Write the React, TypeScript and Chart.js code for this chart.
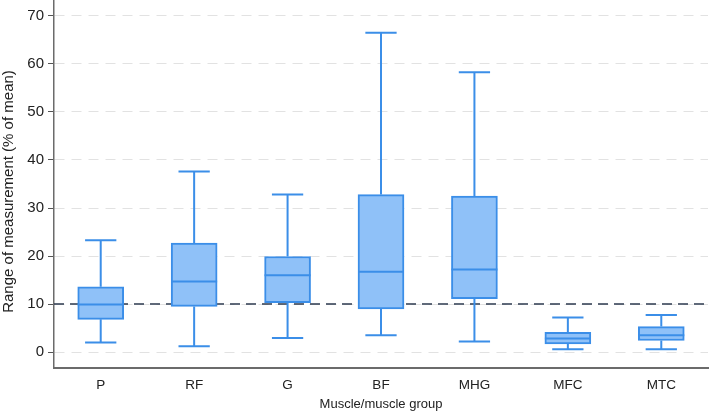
import React, { useEffect, useRef } from "react";
import { Chart, registerables } from "chart.js";

Chart.register(...registerables);

// Muscle groups on the x axis
const CATEGORIES = ["P", "RF", "G", "BF", "MHG", "MFC", "MTC"];

// Five-number summaries (% of mean)
const WHISKER_LOW = [2.0, 1.2, 2.9, 3.5, 2.2, 0.55, 0.6];
const Q1 = [6.8, 9.5, 10.3, 9.0, 11.1, 1.7, 2.4];
const MEDIAN = [9.9, 14.7, 16.0, 16.7, 17.2, 2.8, 3.5];
const Q3 = [13.6, 22.7, 19.9, 32.8, 32.5, 4.1, 5.3];
const WHISKER_HIGH = [23.3, 37.6, 32.8, 66.5, 58.3, 7.2, 7.7];

// Value axis
const Y_TICKS = [0, 10, 20, 30, 40, 50, 60, 70];
const Y_MIN = -3.33;
const Y_MAX = 73.33;
const Y_TITLE = "Range of measurement (% of mean)";
const X_TITLE = "Muscle/muscle group";

// Reference threshold
const REFERENCE_LEVEL = 10;

const FILL = "#8fc1f8";
const STROKE = "#3b8ee8";
const TEXT = "#222";
const FONT_FAMILY = "'Liberation Sans', Arial, sans-serif";

const boxParts = {
  id: "boxParts",
  beforeDatasetsDraw(chart: any) {
    const { ctx, chartArea, scales } = chart;
    const y = scales.y.getPixelForValue(REFERENCE_LEVEL);
    ctx.save();
    ctx.strokeStyle = "#2d3a4f";
    ctx.lineWidth = 1.6;
    ctx.setLineDash([10, 6]);
    ctx.beginPath();
    ctx.moveTo(chartArea.left, y);
    ctx.lineTo(chartArea.right, y);
    ctx.stroke();
    ctx.restore();
  },
  afterDatasetsDraw(chart: any) {
    const { ctx, scales } = chart;
    const meta = chart.getDatasetMeta(0);
    const ys = scales.y;
    ctx.save();
    ctx.strokeStyle = STROKE;
    ctx.lineWidth = 2;
    ctx.setLineDash([]);
    meta.data.forEach((bar: any, i: number) => {
      const x = bar.x;
      const half = bar.width / 2;
      const cap = half * 0.68;
      const yLo = ys.getPixelForValue(WHISKER_LOW[i]);
      const yQ1 = ys.getPixelForValue(Q1[i]);
      const yMed = ys.getPixelForValue(MEDIAN[i]);
      const yQ3 = ys.getPixelForValue(Q3[i]);
      const yHi = ys.getPixelForValue(WHISKER_HIGH[i]);
      ctx.beginPath();
      // upper whisker
      ctx.moveTo(x, yQ3);
      ctx.lineTo(x, yHi);
      ctx.moveTo(x - cap, yHi);
      ctx.lineTo(x + cap, yHi);
      // lower whisker
      ctx.moveTo(x, yQ1);
      ctx.lineTo(x, yLo);
      ctx.moveTo(x - cap, yLo);
      ctx.lineTo(x + cap, yLo);
      // median
      ctx.moveTo(x - half, yMed);
      ctx.lineTo(x + half, yMed);
      ctx.stroke();
    });
    ctx.restore();
  },
  afterDraw(chart: any) {
    // vertical axis title, centred a little below the plot centre
    const { ctx, chartArea } = chart;
    ctx.save();
    ctx.translate(12.5, (chartArea.top + chartArea.bottom) / 2 + 7.5);
    ctx.rotate(-Math.PI / 2);
    ctx.font = `15px ${FONT_FAMILY}`;
    ctx.fillStyle = TEXT;
    ctx.textAlign = "center";
    ctx.textBaseline = "alphabetic";
    ctx.fillText(Y_TITLE, 0, 0);
    ctx.restore();
  },
};

export default function App() {
  const canvasRef = useRef<HTMLCanvasElement | null>(null);

  useEffect(() => {
    if (!canvasRef.current) return;
    const chart = new Chart(canvasRef.current, {
      type: "bar",
      data: {
        labels: CATEGORIES,
        datasets: [
          {
            data: CATEGORIES.map((_, i) => [Q1[i], Q3[i]]) as any,
            backgroundColor: FILL,
            borderColor: STROKE,
            borderWidth: 2,
            borderSkipped: false,
            barThickness: 46,
          },
        ],
      },
      options: {
        responsive: false,
        animation: false,
        layout: { padding: { top: 0, right: 1, bottom: 0, left: 0 } },
        plugins: {
          legend: { display: false },
          tooltip: { enabled: false },
        },
        scales: {
          x: {
            offset: true,
            grid: { display: false, drawTicks: false },
            border: { display: true, color: "#6b6b6b", width: 2 },
            ticks: {
              color: TEXT,
              font: { family: FONT_FAMILY, size: 13.5 },
              padding: 9,
            },
            title: {
              display: true,
              text: X_TITLE,
              color: TEXT,
              font: { family: FONT_FAMILY, size: 13 },
              padding: { top: 0, bottom: 0 },
            },
            afterFit(scale: any) {
              scale.height = 44;
              scale.paddingLeft = 0;
              scale.paddingRight = 0;
            },
          },
          y: {
            min: Y_MIN,
            max: Y_MAX,
            afterBuildTicks(scale: any) {
              scale.ticks = Y_TICKS.map((v) => ({ value: v }));
            },
            grid: {
              color: "#e2e2e2",
              lineWidth: 1,
              drawTicks: true,
              tickLength: 6,
              tickColor: "#555",
              tickBorderDash: [1, 0],
            } as any,
            border: { display: true, color: "#6b6b6b", width: 1.5, dash: [10, 7] },
            ticks: {
              color: TEXT,
              font: { family: FONT_FAMILY, size: 15 },
              padding: 4,
            },
            title: { display: false },
            afterFit(scale: any) {
              scale.width = 54;
              scale.paddingTop = 0;
              scale.paddingBottom = 0;
            },
          },
        },
      },
      plugins: [boxParts],
    });
    return () => chart.destroy();
  }, []);

  return (
    <div style={{ position: "fixed", left: 0, top: 0, width: 709, height: 412, background: "#fff" }}>
      <canvas ref={canvasRef} width={709} height={412} />
    </div>
  );
}
